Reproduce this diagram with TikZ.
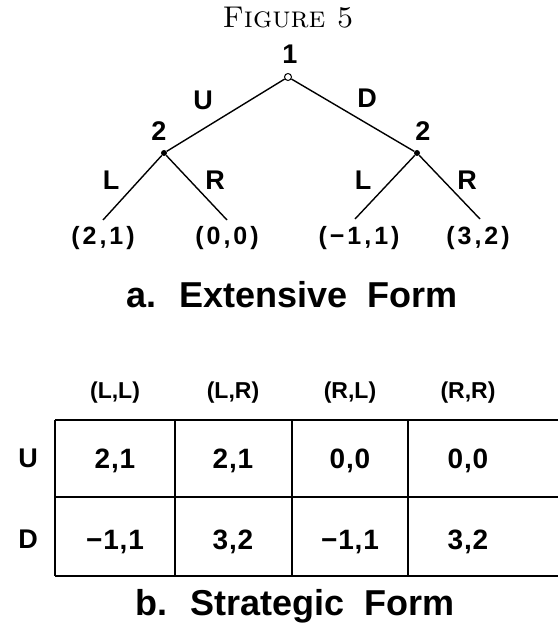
\documentclass[tikz,border=0pt]{standalone}
\usepackage{fontspec}
\newfontfamily\lblfont{Liberation Sans}
\usetikzlibrary{positioning}

\tikzset{
  lbl/.style={font=\lblfont\bfseries\fontsize{27}{27}\selectfont, inner sep=0pt},
  pay/.style={font=\lblfont\bfseries\fontsize{25}{25}\selectfont\addfontfeatures{LetterSpace=12}, inner sep=0pt},
  hdr/.style={font=\lblfont\bfseries\fontsize{23}{23}\selectfont, inner sep=0pt},
  cell/.style={font=\lblfont\bfseries\fontsize{28}{28}\selectfont\addfontfeatures{LetterSpace=3},
    inner sep=0pt, text height=20pt, text depth=0pt},
  capt/.style={font=\lblfont\bfseries\fontsize{36}{36}\selectfont, inner sep=0pt},
  branch/.style={line width=1.4pt},
  grid/.style={line width=1.6pt},
  dec/.style={circle, fill=black, inner sep=0pt, minimum size=6pt}
}

\begin{document}
\begin{tikzpicture}[x=1pt, y=-1pt]
    \useasboundingbox (0,0) rectangle (558,628);

    % Title
    \node[font=\fontsize{30}{30}\selectfont, inner sep=0pt] (title) at (288,18) {\textsc{Figure 5}};

    % Extensive form: decision nodes
    \node[circle, draw, fill=white, line width=1pt, inner sep=0pt, minimum size=7pt] (root) at (288,77) {};
    \node[dec] (up) at (164,153) {};
    \node[dec] (down) at (417,153) {};
    \coordinate (uL) at (103,220);
    \coordinate (uR) at (227,220);
    \coordinate (dL) at (355,219);
    \coordinate (dR) at (480,219);

    % Branches
    \draw[branch] (root) -- (up);
    \draw[branch] (root) -- (down);
    \draw[branch] (up) -- (uL);
    \draw[branch] (up) -- (uR);
    \draw[branch] (down) -- (dL);
    \draw[branch] (down) -- (dR);

    % Players and moves
    \node[lbl] (p1) at (290,54) {1};
    \node[lbl] (p2a) at (159,131) {2};
    \node[lbl] (p2b) at (423,131) {2};
    \node[lbl] (mU) at (203,100) {U};
    \node[lbl] (mD) at (367,98) {D};
    \node[lbl] (mUL) at (111,180) {L};
    \node[lbl] (mUR) at (215,180) {R};
    \node[lbl] (mDL) at (363,180) {L};
    \node[lbl] (mDR) at (467,180) {R};

    % Payoffs
    \node[pay] (oUL) at (103,238) {(2,1)};
    \node[pay] (oUR) at (227,238) {(0,0)};
    \node[pay] (oDL) at (359,238) {(−1,1)};
    \node[pay] (oDR) at (478,238) {(3,2)};

    \node[capt] (captA) at (292,295) {a.~ Extensive~ Form};

    % Strategic form: grid
    \draw[grid] (55,420) -- (558,420);
    \draw[grid] (55,497) -- (558,497);
    \draw[grid] (55,576) -- (558,576);
    \foreach \x in {55,175,292,408}
      \draw[grid] (\x,420) -- (\x,576);

    \node[lbl] (rowU) at (28,458) {U};
    \node[lbl] (rowD) at (28,539) {D};

    % Columns: strategy, payoff after U, payoff after D
    \foreach \i/\x/\s/\u/\d in {1/115/{(L,L)}/{2,1}/{−1,1}, 2/233/{(L,R)}/{2,1}/{3,2}, 3/350/{(R,L)}/{0,0}/{−1,1}, 4/468/{(R,R)}/{0,0}/{3,2}} {
      \node[hdr] (col\i) at (\x,393) {\s};
      \node[cell] (cU\i) at (\x,458) {\u};
      \node[cell] (cD\i) at (\x,539) {\d};
    }

    \node[capt] (captB) at (295,606) {b.~ Strategic~ Form};
\end{tikzpicture}
\end{document}
